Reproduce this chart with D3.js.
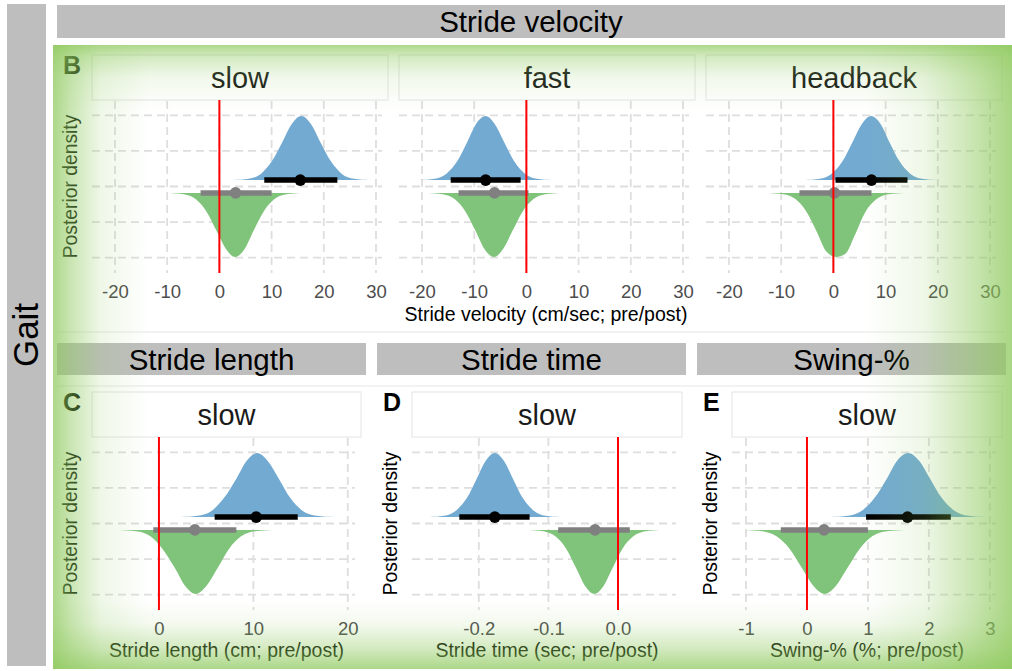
<!DOCTYPE html>
<html>
<head>
<meta charset="utf-8">
<script src="https://cdn.jsdelivr.net/npm/d3@7"></script>
<style>
  html, body { margin: 0; padding: 0; background: #ffffff; }
  svg { display: block; font-family: "Liberation Sans", Arial, Helvetica, sans-serif; }
</style>
</head>
<body>
<svg id="chart" width="1012" height="671"></svg>
<script>
// ---- data ----------------------------------------------------------------
const sideTitle = "Gait";
const sectionTitles = ["Stride velocity", "Stride length", "Stride time", "Swing-%"];
const panelTags = ["B", "", "", "C", "D", "E"];
const conditions = ["slow", "fast", "headback", "slow", "slow", "slow"];
const axisTitles = [
  "Stride velocity (cm/sec; pre/post)",
  "Stride length (cm; pre/post)",
  "Stride time (sec; pre/post)",
  "Swing-% (%; pre/post)"
];
const yAxisTitle = "Posterior density";
const xTickValues = [
  [-20, -10, 0, 10, 20, 30],
  [-20, -10, 0, 10, 20, 30],
  [-20, -10, 0, 10, 20, 30],
  [0, 10, 20],
  [-0.2, -0.1, 0.0],
  [-1, 0, 1, 2, 3]
];
const xTickFormats = ["d", "d", "d", "d", ".1f", "d"];

// upper (blue) posterior: median and 95% interval
const upperMedian = [15.5, -7.8, 7.3, 10.3, -0.177, 1.65];
const upperLow    = [8.6, -14.5, 0.4, 5.9, -0.228, 0.97];
const upperHigh   = [22.6, -1.1, 14.2, 14.7, -0.127, 2.36];
// lower (green) posterior: median and 95% interval
const lowerMedian = [3.1, -6.1, 0.2, 3.8, -0.033, 0.28];
const lowerLow    = [-3.6, -13.0, -6.5, -0.6, -0.086, -0.43];
const lowerHigh   = [10.0, 0.4, 7.3, 8.2, 0.017, 1.0];

// relative density heights at the knots listed below
const densityHeights = [0, 0.02, 0.1, 0.3, 0.6, 0.88, 1, 0.88, 0.6, 0.3, 0.1, 0.02, 0];
const lowerHeadbackHeights = [0, 0.02, 0.1, 0.3, 0.62, 0.92, 1, 0.95, 0.66, 0.3, 0.1, 0.02, 0];
const upperDensityX = [
  [2.7, 5.6, 8.0, 10.1, 12.1, 13.9, 15.7, 17.5, 19.3, 21.3, 23.4, 25.8, 28.7],
  [-20.4, -17.6, -15.3, -13.2, -11.3, -9.6, -7.8, -6.1, -4.3, -2.4, -0.3, 2.0, 4.8],
  [-5.4, -2.6, -0.3, 1.8, 3.7, 5.5, 7.2, 9.0, 10.7, 12.6, 14.7, 17.0, 19.8],
  [2.3, 4.1, 5.6, 6.9, 8.2, 9.3, 10.4, 11.5, 12.7, 13.9, 15.2, 16.7, 18.5],
  [-0.271, -0.250, -0.233, -0.217, -0.203, -0.190, -0.177, -0.164, -0.151, -0.137, -0.121, -0.104, -0.083],
  [0.38, 0.67, 0.90, 1.11, 1.31, 1.48, 1.66, 1.84, 2.02, 2.21, 2.42, 2.65, 2.94]
];
const lowerDensityX = [
  [-9.6, -6.8, -4.5, -2.4, -0.5, 1.3, 3.0, 4.8, 6.5, 8.4, 10.5, 12.8, 15.6],
  [-18.8, -16.0, -13.7, -11.6, -9.7, -8.0, -6.2, -4.5, -2.7, -0.8, 1.3, 3.6, 6.4],
  [-12.5, -9.6, -7.2, -5.1, -3.1, -1.3, 0.5, 2.3, 4.1, 6.1, 8.2, 10.6, 13.5],
  [-4.2, -2.4, -0.9, 0.4, 1.7, 2.8, 3.9, 5.0, 6.2, 7.4, 8.7, 10.2, 12.0],
  [-0.128, -0.107, -0.090, -0.074, -0.060, -0.047, -0.034, -0.021, -0.008, 0.006, 0.022, 0.039, 0.060],
  [-1.02, -0.73, -0.50, -0.28, -0.08, 0.11, 0.29, 0.47, 0.66, 0.86, 1.07, 1.31, 1.60]
];
const referenceValue = 0;

// ---- layout --------------------------------------------------------------
const colors = {
  upper: "#73aad2", lower: "#80c47c",
  upperInterval: "#000000", lowerInterval: "#808080",
  stripGrey: "#bebebe", grid: "#dedede", ref: "#ff0000",
  tick: "#4d4d4d", glow: "#8cc85a"
};
const panels = [
  { x0: 92,  x1: 388,  top: 55,  domain: [-24.4, 32.3] },
  { x0: 399, x1: 695,  top: 55,  domain: [-24.4, 32.3] },
  { x0: 706, x1: 1002, top: 55,  domain: [-24.4, 32.3] },
  { x0: 92,  x1: 361,  top: 392, domain: [-7.09, 21.4] },
  { x0: 412, x1: 682,  top: 392, domain: [-0.296, 0.092] },
  { x0: 732, x1: 1002, top: 392, domain: [-1.23, 3.2] }
];
const stripH = 45, plotH = 173;
const yLabelX = [77, null, null, 77, 397, 717];
const tagX = [63, null, null, 63, 383, 703];

// tick labels use a plain hyphen for negatives
const locale = d3.formatLocale({ decimal: ".", thousands: ",", grouping: [3], currency: ["", ""], minus: "-" });

const svg = d3.select("#chart");
const defs = svg.append("defs");

// outer grey strips
svg.append("rect").attr("x", 7).attr("y", 4).attr("width", 39).attr("height", 662).attr("fill", colors.stripGrey);
svg.append("text").attr("transform", "translate(38,335) rotate(-90)")
  .attr("text-anchor", "middle").attr("font-size", 35).attr("fill", "#000").text(sideTitle);

svg.append("rect").attr("x", 57).attr("y", 5).attr("width", 948).attr("height", 33).attr("fill", colors.stripGrey);
svg.append("text").attr("x", 531).attr("y", 32).attr("text-anchor", "middle")
  .attr("font-size", 29.5).attr("fill", "#000").text(sectionTitles[0]);

const sectionStrips = [[57, 366], [377, 686], [697, 1006]];
sectionStrips.forEach(([a, b], i) => {
  svg.append("rect").attr("x", a).attr("y", 343).attr("width", b - a).attr("height", 32).attr("fill", colors.stripGrey);
  svg.append("text").attr("x", (a + b) / 2).attr("y", 369.5).attr("text-anchor", "middle")
    .attr("font-size", 29.5).attr("fill", "#000").text(sectionTitles[i + 1]);
});

// faint separators between plot rows
[332, 386].forEach(y => {
  svg.append("line").attr("x1", 57).attr("x2", 1005).attr("y1", y).attr("y2", y)
    .attr("stroke", "#e6e6e6").attr("stroke-width", 1);
});

// ---- panels --------------------------------------------------------------
const area = d3.area().curve(d3.curveMonotoneX);

panels.forEach((p, i) => {
  const plotTop = p.top + stripH;
  const plotBottom = plotTop + plotH;
  const x = d3.scaleLinear().domain(p.domain).range([p.x0, p.x1]);
  const y = d3.scaleLinear().domain([-2.43, 2.43]).range([plotBottom, plotTop]);
  const g = svg.append("g");

  // facet strip
  g.append("rect").attr("x", p.x0).attr("y", p.top).attr("width", p.x1 - p.x0).attr("height", stripH)
    .attr("fill", "#ffffff").attr("stroke", "#e4e4e4").attr("stroke-width", 1);
  g.append("text").attr("x", (p.x0 + p.x1) / 2).attr("y", p.top + stripH / 2 + 10.5)
    .attr("text-anchor", "middle").attr("font-size", 29).attr("fill", "#1a1a1a").text(conditions[i]);

  // grid
  g.selectAll(".hgrid").data([-2, -1, 0, 1, 2]).join("line")
    .attr("x1", p.x0).attr("x2", p.x1 - 6)
    .attr("y1", d => y(d)).attr("y2", d => y(d))
    .attr("stroke", colors.grid).attr("stroke-width", 1.8).attr("stroke-dasharray", "8,5");
  g.selectAll(".vgrid").data(xTickValues[i]).join("line")
    .attr("x1", d => x(d)).attr("x2", d => x(d))
    .attr("y1", plotTop + 1).attr("y2", plotBottom)
    .attr("stroke", colors.grid).attr("stroke-width", 1.8).attr("stroke-dasharray", "8,5");

  // x axis ticks
  const axis = d3.axisBottom(x).tickValues(xTickValues[i])
    .tickFormat(locale.format(xTickFormats[i])).tickSize(0).tickPadding(0);
  const ax = g.append("g").attr("transform", `translate(0,${plotBottom})`).call(axis);
  ax.select(".domain").remove();
  ax.selectAll("text").attr("y", 25).attr("dy", null)
    .attr("font-size", 18.5).attr("font-family", "\"Liberation Sans\", Arial, sans-serif").attr("fill", colors.tick);

  // densities
  const upperBase = 0.18, lowerBase = -0.18, scaleH = 1.8;
  const heightsLower = i === 2 ? lowerHeadbackHeights : densityHeights;
  const upperPts = upperDensityX[i].map((v, k) => [v, densityHeights[k]]);
  const lowerPts = lowerDensityX[i].map((v, k) => [v, heightsLower[k]]);
  g.append("path").datum(upperPts)
    .attr("d", area.x(d => x(d[0])).y0(y(upperBase)).y1(d => y(upperBase + scaleH * d[1])))
    .attr("fill", colors.upper);
  g.append("path").datum(lowerPts)
    .attr("d", area.x(d => x(d[0])).y0(y(lowerBase)).y1(d => y(lowerBase - scaleH * d[1])))
    .attr("fill", colors.lower);

  // intervals and medians
  g.append("line").attr("x1", x(upperLow[i])).attr("x2", x(upperHigh[i]))
    .attr("y1", y(upperBase)).attr("y2", y(upperBase))
    .attr("stroke", colors.upperInterval).attr("stroke-width", 5.5);
  g.append("circle").attr("cx", x(upperMedian[i])).attr("cy", y(upperBase)).attr("r", 5.8)
    .attr("fill", colors.upperInterval);
  g.append("line").attr("x1", x(lowerLow[i])).attr("x2", x(lowerHigh[i]))
    .attr("y1", y(lowerBase)).attr("y2", y(lowerBase))
    .attr("stroke", colors.lowerInterval).attr("stroke-width", 5.5);
  g.append("circle").attr("cx", x(lowerMedian[i])).attr("cy", y(lowerBase)).attr("r", 5.8)
    .attr("fill", colors.lowerInterval);

  // reference line at zero
  g.append("line").attr("x1", x(referenceValue)).attr("x2", x(referenceValue))
    .attr("y1", plotTop).attr("y2", plotBottom)
    .attr("stroke", colors.ref).attr("stroke-width", 2);

  // y axis title and panel tag
  if (yLabelX[i] !== null) {
    g.append("text").attr("transform", `translate(${yLabelX[i]},${(plotTop + plotBottom) / 2}) rotate(-90)`)
      .attr("text-anchor", "middle").attr("font-size", 19.3).attr("fill", "#000").text(yAxisTitle);
  }
  if (panelTags[i]) {
    g.append("text").attr("x", tagX[i]).attr("y", p.top + 18.5)
      .attr("font-size", 25).attr("font-weight", "bold").attr("fill", "#000").text(panelTags[i]);
  }
});

// axis titles
svg.append("text").attr("x", 546).attr("y", 321).attr("text-anchor", "middle")
  .attr("font-size", 19.5).attr("fill", "#000").text(axisTitles[0]);
[3, 4, 5].forEach((pi, k) => {
  const p = panels[pi];
  svg.append("text").attr("x", (p.x0 + p.x1) / 2).attr("y", 657).attr("text-anchor", "middle")
    .attr("font-size", 19.5).attr("fill", "#000").text(axisTitles[k + 1]);
});

// ---- green highlight glow around the gait block ---------------------------
function glowGradient(id, x1, y1, x2, y2, stops) {
  const lg = defs.append("linearGradient").attr("id", id)
    .attr("x1", x1).attr("y1", y1).attr("x2", x2).attr("y2", y2);
  stops.forEach(([o, a]) => lg.append("stop").attr("offset", o)
    .attr("stop-color", colors.glow).attr("stop-opacity", a));
}
glowGradient("glowLeft", 0, 0, 1, 0, [[0, 0.72], [0.2, 0.45], [0.5, 0.14], [1, 0]]);
glowGradient("glowTop", 0, 0, 0, 1, [[0, 0.7], [0.18, 0.38], [0.5, 0.12], [1, 0]]);
glowGradient("glowRight", 1, 0, 0, 0, [[0, 0.75], [0.25, 0.48], [0.6, 0.14], [1, 0]]);
glowGradient("glowBottom", 0, 1, 0, 0, [[0, 0.72], [0.3, 0.38], [0.65, 0.1], [1, 0]]);

const glow = svg.append("g").attr("pointer-events", "none");
glow.append("rect").attr("x", 53).attr("y", 45).attr("width", 95).attr("height", 624).attr("fill", "url(#glowLeft)");
glow.append("rect").attr("x", 53).attr("y", 45).attr("width", 959).attr("height", 65).attr("fill", "url(#glowTop)");
glow.append("rect").attr("x", 865).attr("y", 45).attr("width", 147).attr("height", 624).attr("fill", "url(#glowRight)");
glow.append("rect").attr("x", 53).attr("y", 600).attr("width", 959).attr("height", 69).attr("fill", "url(#glowBottom)");
</script>
</body>
</html>
